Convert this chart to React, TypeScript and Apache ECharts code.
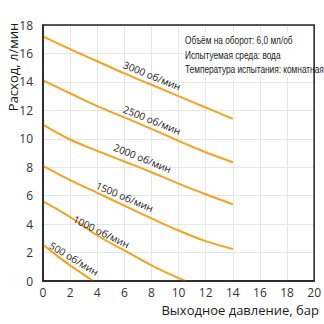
import React, { useEffect, useRef } from "react";
import * as echarts from "echarts";

const pressures = [0, 2, 4, 6, 8, 10, 12, 14];
const flow3000 = [17.2, 16.3, 15.45, 14.6, 13.8, 13.0, 12.2, 11.4];
const flow2500 = [14.1, 13.2, 12.3, 11.5, 10.7, 9.85, 9.05, 8.35];
const flow2000 = [11.0, 9.95, 9.15, 8.4, 7.65, 6.85, 6.1, 5.4];
const flow1500 = [8.1, 7.1, 6.2, 5.3, 4.4, 3.55, 2.8, 2.25];
const p1000 = [0, 2, 4, 6, 8, 10, 10.5];
const flow1000 = [5.6, 4.5, 3.2, 2.15, 1.1, 0.2, 0];
const p500 = [0, 1, 2, 3, 3.7];
const flow500 = [2.55, 1.8, 1.1, 0.45, 0];

const speedLabels = ["3000 об/мин", "2500 об/мин", "2000 об/мин", "1500 об/мин", "1000 об/мин", "500 об/мин"];
const labelAnchorX = [8.05, 8.05, 7.35, 6.03, 4.31, 2.29];
const labelAnchorY = [14.45, 11.33, 8.65, 5.93, 3.47, 1.58];
const labelAngle = [-22, -22, -22, -23, -26, -31];

const noteLines = ["Объём на оборот: 6,0 мл/об", "Испытуемая среда: вода", "Температура испытания: комнатная"];

const xTicks = [0, 20, 2];
const yTicks = [0, 18, 2];

const ORANGE = "#F7A11E";

function pairs(xs: number[], ys: number[]) {
  return xs.map((x, i) => [x, ys[i]]);
}

export default function App() {
  const ref = useRef<HTMLDivElement>(null);
  useEffect(() => {
    if (!ref.current) return;
    const chart = echarts.init(ref.current, null, { renderer: "svg" });
    const allSeries = [
      pairs(pressures, flow3000),
      pairs(pressures, flow2500),
      pairs(pressures, flow2000),
      pairs(pressures, flow1500),
      pairs(p1000, flow1000),
      pairs(p500, flow500),
    ];
    const font = "'Open Sans', 'Noto Sans', sans-serif";
    chart.setOption({
      animation: false,
      grid: { left: 43, right: 9, top: 25, bottom: 43, show: false },
      xAxis: {
        type: "value",
        min: xTicks[0],
        max: xTicks[1],
        interval: xTicks[2],
        axisLine: { show: true, lineStyle: { color: "#222", width: 1.5 } },
        axisTick: { show: false },
        axisLabel: { color: "#333", fontSize: 12, fontFamily: font, margin: 5 },
        splitLine: { show: true, lineStyle: { color: "#e6e6e6", width: 1 } },
      },
      yAxis: {
        type: "value",
        min: yTicks[0],
        max: yTicks[1],
        interval: yTicks[2],
        axisLine: { show: true, lineStyle: { color: "#222", width: 1.5 } },
        axisTick: { show: false },
        axisLabel: { color: "#333", fontSize: 12, fontFamily: font, margin: 10 },
        splitLine: { show: true, lineStyle: { color: "#e6e6e6", width: 1 } },
      },
      series: allSeries.map((d) => ({
        type: "line",
        data: d,
        smooth: 0.4,
        showSymbol: false,
        lineStyle: { color: ORANGE, width: 2 },
        silent: true,
      })),
    });

    const graphics: any[] = [];
    const tl = chart.convertToPixel({ gridIndex: 0 }, [xTicks[0], yTicks[1]]) as number[];
    const br = chart.convertToPixel({ gridIndex: 0 }, [xTicks[1], yTicks[0]]) as number[];
    graphics.push({
      type: "rect",
      shape: { x: tl[0], y: tl[1], width: br[0] - tl[0], height: br[1] - tl[1] },
      style: { fill: "none", stroke: "#222", lineWidth: 1.5 },
      silent: true,
      z: 10,
    });
    speedLabels.forEach((t, i) => {
      const p = chart.convertToPixel({ gridIndex: 0 }, [labelAnchorX[i], labelAnchorY[i]]) as number[];
      graphics.push({
        type: "text",
        x: p[0],
        y: p[1],
        rotation: (labelAngle[i] * Math.PI) / 180,
        style: {
          text: t,
          fill: "#1a1a1a",
          font: `10px 'Open Sans', sans-serif`,
          align: "center",
          verticalAlign: "middle",
        },
        z: 20,
      });
    });
    graphics.push({
      type: "rect",
      shape: { x: 183, y: 32, width: 130, height: 45 },
      style: { fill: "#fff" },
      z: 15,
    });
    noteLines.forEach((t, i) => {
      graphics.push({
        type: "text",
        x: 185,
        y: 41 + i * 14.5,
        scaleX: 0.83,
        style: {
          text: t,
          fill: "#1a1a1a",
          font: `10px 'Liberation Sans', sans-serif`,
          align: "left",
          verticalAlign: "middle",
        },
        z: 20,
      });
    });
    graphics.push({
      type: "text",
      x: 13,
      y: 67,
      rotation: Math.PI / 2,
      style: {
        text: "Расход, л/мин",
        fill: "#1a1a1a",
        font: `13px ${font}`,
        align: "center",
        verticalAlign: "middle",
      },
      z: 20,
    });
    graphics.push({
      type: "text",
      x: 319,
      y: 310,
      style: {
        text: "Выходное давление, бар",
        fill: "#1a1a1a",
        font: `13px ${font}`,
        align: "right",
        verticalAlign: "middle",
      },
      z: 20,
    });
    chart.setOption({ graphic: graphics });
    return () => chart.dispose();
  }, []);
  return <div ref={ref} style={{ width: 324, height: 324, position: "absolute", left: 0, top: 0 }} />;
}
